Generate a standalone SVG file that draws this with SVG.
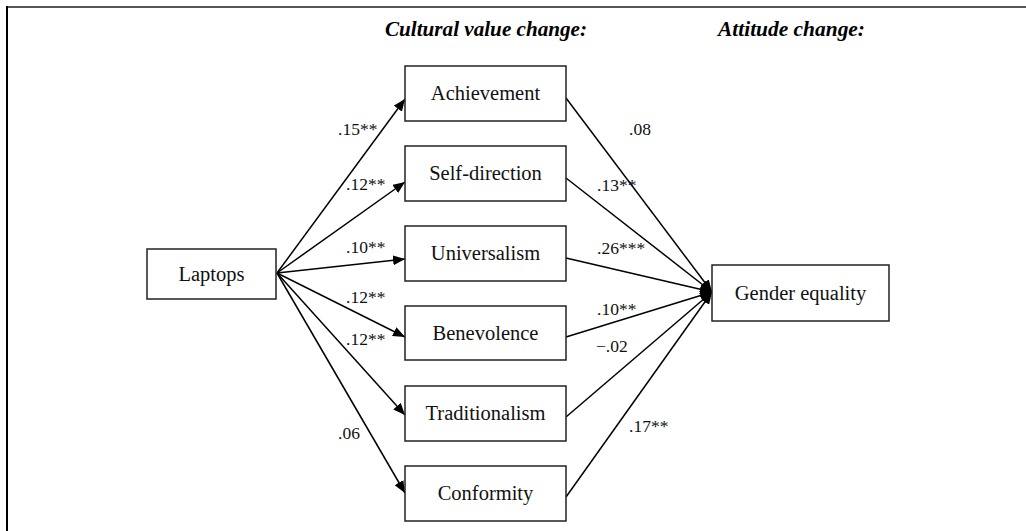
<svg xmlns="http://www.w3.org/2000/svg" width="1026" height="531" viewBox="0 0 1026 531">
<style>
.box{fill:#fff;stroke:#222;stroke-width:1.5}
.nt{font-family:"Liberation Serif","Times New Roman",serif;font-size:20.5px;fill:#111;text-anchor:middle}
.lb{font-family:"Liberation Serif","Times New Roman",serif;font-size:17.5px;fill:#111}
.hd{font-family:"Liberation Serif","Times New Roman",serif;font-size:20px;font-weight:bold;font-style:italic;fill:#000}
.ln{stroke:#000;stroke-width:1.5;fill:none;marker-end:url(#ah)}
</style>
<defs>
<marker id="ah" viewBox="0 0 12 10" refX="12" refY="5" markerWidth="12" markerHeight="10" markerUnits="userSpaceOnUse" orient="auto">
<path d="M0,0 L12,5 L0,10 Z" fill="#000"/>
</marker>
</defs>
<rect width="1026" height="531" fill="#fff"/>
<g id="frame">
<line x1="6" y1="7" x2="1026" y2="7" stroke="#555" stroke-width="2"/>
<line x1="7" y1="6" x2="7" y2="531" stroke="#000" stroke-width="2"/>
</g>
<g id="headings">
<text class="hd" x="385" y="36" textLength="202" lengthAdjust="spacingAndGlyphs">Cultural value change:</text>
<text class="hd" x="718" y="36" textLength="147" lengthAdjust="spacingAndGlyphs">Attitude change:</text>
</g>
<g id="connectors">
<line class="ln" x1="277" y1="273" x2="405" y2="99"/>
<line class="ln" x1="277" y1="273" x2="405" y2="182"/>
<line class="ln" x1="277" y1="273" x2="405" y2="259"/>
<line class="ln" x1="277" y1="273" x2="405" y2="337"/>
<line class="ln" x1="277" y1="273" x2="405" y2="415"/>
<line class="ln" x1="277" y1="273" x2="405" y2="493"/>
<line class="ln" x1="566" y1="98" x2="712" y2="292"/>
<line class="ln" x1="566" y1="178" x2="712" y2="292"/>
<line class="ln" x1="566" y1="258" x2="712" y2="292"/>
<line class="ln" x1="566" y1="337" x2="712" y2="292"/>
<line class="ln" x1="566" y1="417" x2="712" y2="292"/>
<line class="ln" x1="566" y1="497" x2="712" y2="292"/>
<g id="labels">
<text class="lb" x="338" y="135">.15**</text>
<text class="lb" x="346" y="190">.12**</text>
<text class="lb" x="346" y="253">.10**</text>
<text class="lb" x="346" y="303">.12**</text>
<text class="lb" x="346" y="345">.12**</text>
<text class="lb" x="338" y="439">.06</text>
<text class="lb" x="629" y="135">.08</text>
<text class="lb" x="597" y="191">.13**</text>
<text class="lb" x="597" y="254">.26***</text>
<text class="lb" x="597" y="315">.10**</text>
<text class="lb" x="596" y="352">−.02</text>
<text class="lb" x="629" y="432">.17**</text>
</g>
</g>
<g id="laptops">
<rect class="box" x="147" y="249" width="129" height="50"/>
<text class="nt" x="211.5" y="281">Laptops</text>
</g>
<g id="achievement">
<rect class="box" x="405" y="66" width="161" height="55"/>
<text class="nt" x="485.5" y="100">Achievement</text>
</g>
<g id="self-direction">
<rect class="box" x="405" y="146" width="161" height="55"/>
<text class="nt" x="485.5" y="180">Self-direction</text>
</g>
<g id="universalism">
<rect class="box" x="405" y="226" width="161" height="55"/>
<text class="nt" x="485.5" y="260">Universalism</text>
</g>
<g id="benevolence">
<rect class="box" x="405" y="306" width="161" height="54"/>
<text class="nt" x="485.5" y="340">Benevolence</text>
</g>
<g id="traditionalism">
<rect class="box" x="405" y="386" width="161" height="55"/>
<text class="nt" x="485.5" y="420">Traditionalism</text>
</g>
<g id="conformity">
<rect class="box" x="405" y="466" width="161" height="55"/>
<text class="nt" x="485.5" y="500">Conformity</text>
</g>
<g id="gender-equality">
<rect class="box" x="712" y="265" width="177" height="56"/>
<text class="nt" x="800.5" y="300">Gender equality</text>
</g>
</svg>
